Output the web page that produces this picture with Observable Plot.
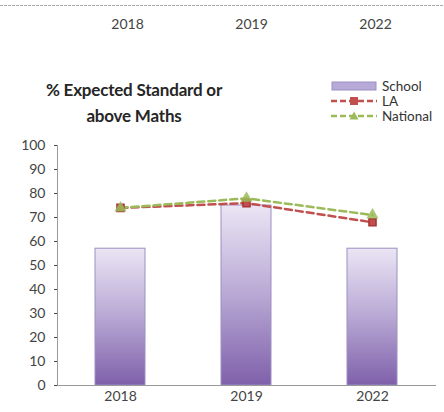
<!DOCTYPE html>
<html><head><meta charset="utf-8">
<script src="https://cdn.jsdelivr.net/npm/d3@7"></script>
<script src="https://cdn.jsdelivr.net/npm/@observablehq/plot@0.6"></script>
<style>
body{margin:0;background:#fff;font-family:Lato,"Open Sans",sans-serif}
#wrap{position:relative;width:444px;height:412px;overflow:hidden;background:#fff}
#wrap svg{display:block}
#title{position:absolute;left:14px;top:77px;width:240px;text-align:center;font:bold 17px Lato,sans-serif;line-height:26px;color:#262626;letter-spacing:-0.2px}
#legend{position:absolute;left:331px;top:78px;font:13.5px Lato,sans-serif;color:#333}
.li{display:flex;align-items:center;height:15px}
.li svg{margin-right:5px}
</style></head><body><div id="wrap"></div>
<script>
const years = ["2018", "2019", "2022"];
const school = [57, 75, 57];
const la = [74, 76, 68];
const national = [74, 78, 71];
const yTicks = [0, 10, 20, 30, 40, 50, 60, 70, 80, 90, 100];
const seriesNames = ["School", "LA", "National"];
const titleLines = ["% Expected Standard or", "above Maths"];

const colors = {School: "#b7a9d8", LA: "#c0504d", National: "#9bbb59"};

const rows = years.map((y, i) => ({year: y, school: school[i], la: la[i], national: national[i]}));

const wrap = document.getElementById("wrap");

// remnant axis of the previous chart at the top
const topAxis = Plot.plot({
  width: 444, height: 40, marginTop: 5, marginBottom: 25, marginLeft: 0, marginRight: 0,
  x: {type: "band", domain: years, range: [57, 444]},
  style: {fontFamily: "Lato, sans-serif", background: "#fff"},
  marks: [
    Plot.frame({anchor: "top", stroke: "#aaa", strokeDasharray: "2,2"}),
    Plot.axisX(years, {anchor: "bottom", tickSize: 0, tickPadding: 4, fontSize: 14, color: "#444"})
  ]
});
wrap.appendChild(topAxis);

const defsMark = () => {
  const ns = "http://www.w3.org/2000/svg";
  const defs = document.createElementNS(ns, "defs");
  const g = document.createElementNS(ns, "linearGradient");
  g.setAttribute("id", "schoolGrad");
  g.setAttribute("x1", "0"); g.setAttribute("y1", "0");
  g.setAttribute("x2", "0"); g.setAttribute("y2", "1");
  [["0%", "#ebe5f4"], ["50%", "#b8a8d4"], ["100%", "#7f60aa"]].forEach(([o, c]) => {
    const s = document.createElementNS(ns, "stop");
    s.setAttribute("offset", o); s.setAttribute("stop-color", c);
    g.appendChild(s);
  });
  defs.appendChild(g);
  return defs;
};

const mainChart = Plot.plot({
  width: 444, height: 372, marginTop: 105, marginBottom: 27, marginLeft: 57, marginRight: 9,
  x: {type: "band", domain: years, paddingInner: 0.6, paddingOuter: 0.3},
  y: {domain: [0, 100]},
  style: {fontFamily: "Lato, sans-serif", background: "#fff"},
  marks: [
    defsMark,
    Plot.barY(rows, {x: "year", y: "school", fill: "url(#schoolGrad)", stroke: "#9d8fc4", strokeWidth: 1}),
    Plot.line(rows, {x: "year", y: "la", stroke: colors.LA, strokeWidth: 2.5, strokeDasharray: "7,4"}),
    Plot.line(rows, {x: "year", y: "national", stroke: colors.National, strokeWidth: 2.5, strokeDasharray: "7,4"}),
    Plot.dot(rows, {x: "year", y: "la", symbol: "square", r: 4, fill: colors.LA, stroke: "#a33"}),
    Plot.dot(rows, {x: "year", y: "national", symbol: "triangle", r: 4.5, fill: colors.National, fillOpacity: 0.85}),
    Plot.frame({anchor: "left", stroke: "#999"}),
    Plot.frame({anchor: "bottom", stroke: "#999"}),
    Plot.axisY({ticks: yTicks, tickSize: 3, tickPadding: 9, fontSize: 14, color: "#444", label: null}),
    Plot.axisX({tickSize: 0, tickPadding: 6, fontSize: 14, color: "#444", label: null})
  ]
});
wrap.appendChild(mainChart);

// title
const title = document.createElement("div");
title.id = "title";
title.innerHTML = titleLines.join("<br>");
wrap.appendChild(title);

// legend
const legend = document.createElement("div");
legend.id = "legend";
seriesNames.forEach(name => {
  const item = document.createElement("div");
  item.className = "li";
  let icon;
  if (name === "School") {
    icon = `<svg width="46" height="10"><rect x="1" y="1" width="44" height="8" fill="${colors.School}" stroke="#9d8fc4"/></svg>`;
  } else if (name === "LA") {
    icon = `<svg width="46" height="10"><line x1="0" y1="5" x2="46" y2="5" stroke="${colors.LA}" stroke-width="2.5" stroke-dasharray="6,3"/><rect x="19" y="1" width="8" height="8" fill="${colors.LA}"/></svg>`;
  } else {
    icon = `<svg width="46" height="10"><line x1="0" y1="5" x2="46" y2="5" stroke="${colors.National}" stroke-width="2.5" stroke-dasharray="6,3"/><path d="M23,0.5 L27.5,8.5 L18.5,8.5 Z" fill="${colors.National}"/></svg>`;
  }
  item.innerHTML = icon + `<span>${name}</span>`;
  legend.appendChild(item);
});
wrap.appendChild(legend);
</script>
</body></html>
